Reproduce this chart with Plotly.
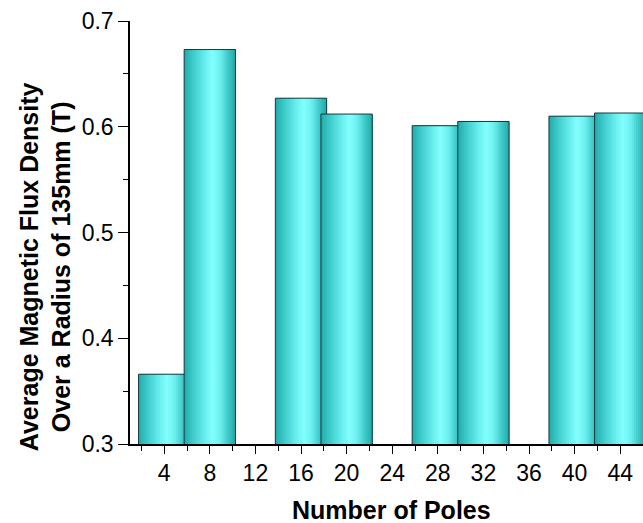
import plotly.graph_objects as go

# ---- data ----
poles = [4, 8, 12, 16, 20, 24, 28, 32, 36, 40, 44]
flux_density = [0.366, 0.673, None, 0.627, 0.612, None, 0.601, 0.605, None, 0.610, 0.613]
x_ticks = [4, 8, 12, 16, 20, 24, 28, 32, 36, 40, 44]
y_ticks = [0.3, 0.4, 0.5, 0.6, 0.7]

# ---- style ----
BAR_W = 4.5
N_STRIPS = 26
stops = [
    (0.00, (0x22, 0xA9, 0xA9)),
    (0.12, (0x36, 0xC2, 0xC2)),
    (0.35, (0x5E, 0xE6, 0xE6)),
    (0.55, (0x84, 0xFF, 0xFF)),
    (0.70, (0x6E, 0xF0, 0xF0)),
    (0.86, (0x3E, 0xC8, 0xC8)),
    (1.00, (0x24, 0xA8, 0xA8)),
]


def grad(t):
    for (p0, c0), (p1, c1) in zip(stops[:-1], stops[1:]):
        if p0 <= t <= p1:
            f = (t - p0) / (p1 - p0) if p1 > p0 else 0
            c = [round(a + (b - a) * f) for a, b in zip(c0, c1)]
            return "rgb(%d,%d,%d)" % tuple(c)
    return "rgb(%d,%d,%d)" % stops[-1][1]


fig = go.Figure()
strip = BAR_W / N_STRIPS
for xv, yv in zip(poles, flux_density):
    if yv is None:
        continue
    offs = [-BAR_W / 2 + k * strip for k in range(N_STRIPS)]
    widths = [BAR_W - k * strip for k in range(N_STRIPS)]
    cols = [grad((k + 0.5) / N_STRIPS) for k in range(N_STRIPS)]
    fig.add_trace(go.Bar(
        x=[xv] * N_STRIPS, y=[yv] * N_STRIPS,
        offset=offs, width=widths,
        marker=dict(color=cols, line=dict(width=0)),
        showlegend=False, hoverinfo="skip",
    ))
    fig.add_trace(go.Bar(
        x=[xv], y=[yv], width=BAR_W,
        marker=dict(color="rgba(0,0,0,0)", line=dict(color="rgb(25,55,60)", width=1)),
        showlegend=False, name="%d poles" % xv,
    ))

FONT = "Liberation Sans, Arial, sans-serif"

fig.update_layout(
    width=643, height=523,
    margin=dict(l=130, r=0, t=21, b=79),
    barmode="overlay",
    paper_bgcolor="white", plot_bgcolor="white",
    font=dict(family=FONT, color="black"),
    xaxis=dict(
        range=[1, 46], tickmode="array", tickvals=x_ticks,
        ticktext=[str(v) for v in x_ticks],
        ticks="outside", ticklen=8, tickwidth=1.2, tickcolor="black",
        showline=True, linecolor="black", linewidth=1.5,
        showgrid=False, zeroline=False,
        tickfont=dict(size=23, family=FONT, color="black"),
        minor=dict(tickmode="linear", tick0=2, dtick=4, ticks="outside", ticklen=5,
                   tickwidth=1.2, tickcolor="black", showgrid=False),
    ),
    yaxis=dict(
        range=[0.3, 0.7], tickmode="array", tickvals=y_ticks,
        ticktext=["%.1f" % v for v in y_ticks],
        ticks="outside", ticklen=10, tickwidth=1.2, tickcolor="black",
        showline=True, linecolor="black", linewidth=1.5,
        showgrid=False, zeroline=False,
        tickfont=dict(size=23, family=FONT, color="black"),
        minor=dict(tickmode="linear", tick0=0.35, dtick=0.1, ticks="outside", ticklen=5,
                   tickwidth=1.2, tickcolor="black", showgrid=False),
    ),
    annotations=[
        dict(text="<b>Number of Poles</b>", xref="paper", yref="paper",
             x=0.509, y=0, yshift=-66, xanchor="center", yanchor="middle",
             showarrow=False, font=dict(size=25, family=FONT, color="black")),
        dict(text="<b>Average Magnetic Flux Density<br>Over a Radius of 135mm (T)</b>",
             xref="paper", yref="paper", x=0, xshift=-85, y=0.418,
             xanchor="center", yanchor="middle", textangle=-90,
             showarrow=False, font=dict(size=25, family=FONT, color="black")),
    ],
)

fig.write_html("out.html")
